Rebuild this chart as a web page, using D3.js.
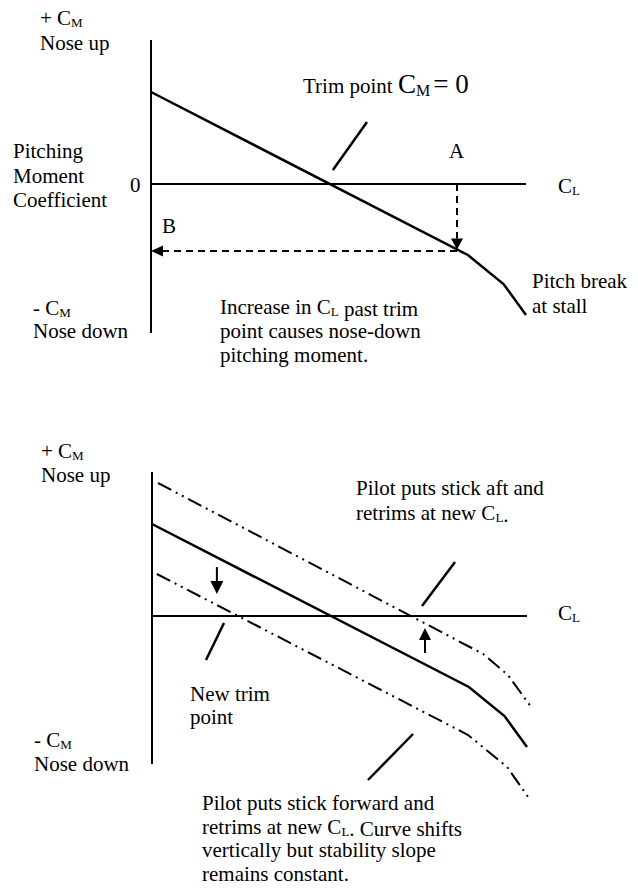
<!DOCTYPE html>
<html><head><meta charset="utf-8">
<script src="https://cdn.jsdelivr.net/npm/d3@7"></script>
<style>
body{margin:0;background:#fff}
svg{display:block}
text{font-family:"Liberation Serif","Times New Roman",serif;fill:#000;font-size:21px}
</style>
</head><body><svg id="chart" width="638" height="888"></svg>
<script>
// ---------- data (C_L along x, C_M along y) ----------
const baseCL = [0, 8.45, 9.4, 10.0];          // original stability curve
const baseCM = [0.92, -0.71, -1.0, -1.31];
const aftCL  = [0.16, 8.83, 9.49, 10.13];      // stick aft, retrimmed
const aftCM  = [1.33, -0.38, -0.59, -0.92];
const fwdCL  = [0.13, 8.43, 9.47, 10.03];      // stick forward, retrimmed
const fwdCM  = [0.42, -1.19, -1.51, -1.81];
const clAxis = [0, 10];
const cmAxisTop = [-1.49, 1.44];
const cmAxisBot = [-1.48, 1.44];
const pointA_CL = 8.16;                        // chosen C_L beyond trim
const pointB_CM = -0.67;                       // resulting nose-down moment

const svg = d3.select("#chart");
const pts = (cl, cm) => cl.map((v, i) => [v, cm[i]]);

function chart(g, x, y, cmAxis) {
  g.append("line").attr("x1", x(0)).attr("x2", x(0))
    .attr("y1", y(cmAxis[1])).attr("y2", y(cmAxis[0]))
    .attr("stroke", "#000").attr("stroke-width", 2);
  g.append("line").attr("x1", x(clAxis[0])).attr("x2", x(clAxis[1]))
    .attr("y1", y(0)).attr("y2", y(0))
    .attr("stroke", "#000").attr("stroke-width", 2);
}
function curve(g, x, y, data, opts) {
  const line = d3.line().x(d => x(d[0])).y(d => y(d[1]));
  g.append("path").attr("d", line(data)).attr("fill", "none")
    .attr("stroke", "#000").attr("stroke-width", opts.w)
    .attr("stroke-dasharray", opts.dash || null)
    .attr("stroke-linejoin", "miter");
}
function seg(g, x, y, a, b, w, dash) {
  g.append("line").attr("x1", x(a[0])).attr("y1", y(a[1]))
    .attr("x2", x(b[0])).attr("y2", y(b[1]))
    .attr("stroke", "#000").attr("stroke-width", w)
    .attr("stroke-dasharray", dash || null);
}
// filled arrowhead with tip at (tx,ty) pointing in direction (dx,dy)
function head(g, tx, ty, dx, dy, len, wid) {
  const n = Math.hypot(dx, dy); dx /= n; dy /= n;
  const bx = tx - dx * len, by = ty - dy * len;
  const px = -dy * wid / 2, py = dx * wid / 2;
  g.append("path").attr("d", `M${tx},${ty}L${bx + px},${by + py}L${bx - px},${by - py}Z`)
    .attr("fill", "#000");
}
function label(g, x, y, parts, size) {
  const t = g.append("text").attr("x", x).attr("y", y);
  if (size) t.style("font-size", size + "px");
  parts.forEach(p => {
    if (typeof p === "string") t.append("tspan").text(p);
    else {
      const s = t.append("tspan").text(p.t);
      if (p.size) s.style("font-size", p.size + "px");
      if (p.sub) {
        s.style("font-size", (p.size || 13) + "px").attr("dy", p.dy || 2);
      }
      if (p.back) s.attr("dy", p.back);
      if (p.dx) s.attr("dx", p.dx);
    }
  });
  return t;
}
function lines(g, x, y0, step, arr) {
  arr.forEach((s, i) => label(g, x, y0 + i * step, Array.isArray(s) ? s : [s]));
}

// ---------------- top chart ----------------
const xT = d3.scaleLinear().domain([0, 10]).range([151, 526]);
const yT = d3.scaleLinear().domain([0, 1]).range([184, 84]);
const gT = svg.append("g");
chart(gT, xT, yT, cmAxisTop);
curve(gT, xT, yT, pts(baseCL, baseCM), { w: 2.5 });

// point A vertical dashed arrow down to curve
const slope = (baseCM[1] - baseCM[0]) / (baseCL[1] - baseCL[0]);
const cmAtA = baseCM[0] + slope * pointA_CL;
seg(gT, xT, yT, [pointA_CL, 0], [pointA_CL, cmAtA + 0.11], 2, "7,5");
head(gT, xT(pointA_CL), yT(cmAtA), 0, 1, 11, 12);
// horizontal dashed arrow to C_M axis (point B)
seg(gT, xT, yT, [pointA_CL, pointB_CM], [0.3, pointB_CM], 2, "7,5");
head(gT, xT(0), yT(pointB_CM), -1, 0, 12, 11);
// trim point leader
seg(gT, xT, yT, [4.85, 0.14], [5.76, 0.62], 2.5);

label(gT, 40, 25, ["+ C", { t: "M", sub: true }]);
label(gT, 40, 50, ["Nose up"]);
lines(gT, 13, 158, 24.5, ["Pitching", "Moment", "Coefficient"]);
label(gT, 130, 192, ["0"]);
label(gT, 33, 315, ["- C", { t: "M", sub: true }]);
label(gT, 33, 338, ["Nose down"]);
label(gT, 303, 93, ["Trim point ", { t: "C", size: 27 }, { t: "M", size: 16, sub: true, dy: 3 }, { t: "= 0", size: 27, back: -3, dx: 3 }]);
label(gT, 449, 158, ["A"]);
label(gT, 558, 193, ["C", { t: "L", sub: true, dy: 0 }]);
label(gT, 162, 233, ["B"]);
lines(gT, 220, 314, 24, [["Increase in C", { t: "L", sub: true, dy: 0 }, " past trim"],
  "point causes nose-down", "pitching moment."]);
lines(gT, 532, 288, 25, ["Pitch break", "at stall"]);

// ---------------- bottom chart ----------------
const xB = d3.scaleLinear().domain([0, 10]).range([152, 527]);
const yB = d3.scaleLinear().domain([0, 1]).range([616, 516]);
const gB = svg.append("g");
chart(gB, xB, yB, cmAxisBot);
curve(gB, xB, yB, pts(aftCL, aftCM), { w: 2, dash: "15,5,2,5,2,5" });
curve(gB, xB, yB, pts(baseCL, baseCM), { w: 2.5 });
curve(gB, xB, yB, pts(fwdCL, fwdCM), { w: 2, dash: "15,5,2,5,2,5" });

// shift arrows
seg(gB, xB, yB, [1.73, 0.49], [1.73, 0.33], 2);
head(gB, xB(1.73), yB(0.22), 0, 1, 13, 13);
seg(gB, xB, yB, [7.28, -0.37], [7.28, -0.22], 2);
head(gB, xB(7.28), yB(-0.12), 0, -1, 12, 12);
// leaders
seg(gB, xB, yB, [7.2, 0.10], [8.08, 0.54], 2.5);
seg(gB, xB, yB, [1.92, -0.07], [1.44, -0.44], 2.5);
seg(gB, xB, yB, [6.96, -1.18], [5.76, -1.64], 2.5);

label(gB, 41, 458, ["+ C", { t: "M", sub: true }]);
label(gB, 41, 482, ["Nose up"]);
label(gB, 34, 747, ["- C", { t: "M", sub: true }]);
label(gB, 34, 771, ["Nose down"]);
lines(gB, 356, 495, 25, ["Pilot puts stick aft and", ["retrims at new C", { t: "L", sub: true, dy: 0 }, "."]]);
label(gB, 558, 620, ["C", { t: "L", sub: true, dy: 0 }]);
lines(gB, 190, 701, 23, ["New trim", "point"]);
lines(gB, 202, 810, 23.5, ["Pilot puts stick forward and",
  ["retrims at new C", { t: "L", sub: true, dy: 0 }, ". Curve shifts"],
  "vertically but stability slope", "remains constant."]);
</script>
</body></html>
